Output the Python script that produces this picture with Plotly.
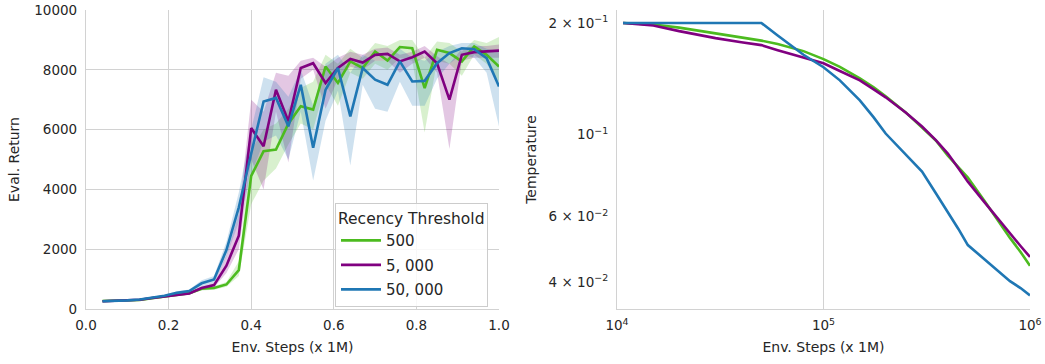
import plotly.graph_objects as go

# ---------------- Left panel data (Eval. Return) ----------------
steps = [0.04, 0.07, 0.10, 0.13, 0.16, 0.19, 0.22, 0.25, 0.28, 0.31, 0.34, 0.37, 0.40,
         0.43, 0.46, 0.49, 0.52, 0.55, 0.58, 0.61, 0.64, 0.67, 0.70, 0.73, 0.76, 0.79,
         0.82, 0.85, 0.88, 0.91, 0.94, 0.97, 1.00]

ret_500 = [270, 275, 285, 300, 360, 420, 490, 530, 680, 700, 820, 1300, 4450, 5280, 5330,
           6200, 6780, 6670, 8110, 7560, 8280, 8060, 8610, 8310, 8760, 8720, 7390, 8670,
           8560, 8280, 8780, 8500, 8110]
ret_500_lo = [230, 240, 250, 265, 320, 380, 450, 490, 620, 640, 740, 1100, 3500, 4300, 4700,
              5500, 6200, 6000, 7500, 6800, 7900, 7700, 8200, 8000, 8400, 8300, 5900, 8300,
              8200, 7800, 8500, 8200, 7600]
ret_500_hi = [310, 310, 320, 335, 400, 460, 530, 570, 740, 760, 900, 1600, 5300, 6000, 6200,
              6700, 7400, 7600, 8500, 8200, 8700, 8400, 8900, 8800, 9000, 9000, 8400, 8950,
              8900, 8600, 9000, 8900, 9100]

ret_5k = [260, 270, 285, 310, 370, 420, 470, 520, 700, 800, 1450, 2450, 6050, 5440, 7330,
          6280, 8060, 8220, 7560, 8060, 8360, 8240, 8500, 8530, 8280, 8420, 8610, 8220,
          7000, 8500, 8590, 8610, 8640]
ret_5k_lo = [220, 235, 250, 275, 330, 380, 430, 480, 640, 720, 1200, 2000, 5000, 4000, 6600,
             4900, 7700, 8000, 6700, 7700, 8100, 8000, 8300, 8300, 7900, 8200, 8400, 7900,
             5350, 8300, 8400, 8400, 8400]
ret_5k_hi = [300, 305, 320, 345, 410, 460, 510, 560, 760, 880, 1800, 3200, 7000, 6600, 7900,
             7800, 8300, 8400, 8100, 8400, 8600, 8500, 8700, 8750, 8500, 8600, 8800, 8450,
             8200, 8700, 8800, 8800, 8850]

ret_50k = [260, 270, 290, 320, 380, 440, 540, 600, 860, 990, 1970, 3400, 5200, 6940, 7060,
           6110, 7500, 5390, 7330, 8060, 6440, 8060, 7670, 7500, 8280, 7610, 7630, 8220,
           8560, 8720, 8690, 8390, 7440]
ret_50k_lo = [220, 235, 255, 285, 340, 400, 490, 550, 760, 880, 1750, 2900, 4500, 5600, 5800,
              5000, 6600, 4300, 6300, 7300, 4800, 7500, 6700, 6600, 7600, 6800, 6800, 7700,
              8200, 8500, 8400, 7900, 6100]
ret_50k_hi = [300, 305, 325, 355, 420, 480, 590, 650, 960, 1100, 2250, 3900, 6000, 7750, 7600,
              7100, 8000, 6800, 8200, 8500, 7900, 8500, 8300, 8300, 8700, 8400, 8300, 8600,
              8800, 8900, 8900, 8700, 8600]

# ---------------- Right panel data (Temperature) ----------------
env_steps = [10700, 15000, 20000, 30000, 40000, 50000, 60000, 70000, 80000, 100000, 120000,
             150000, 175000, 200000, 250000, 300000, 350000, 400000, 450000, 500000, 600000,
             700000, 800000, 900000, 1000000]
temp_500 = [0.200, 0.198, 0.1943, 0.1878, 0.1826, 0.1792, 0.1754, 0.1716, 0.1679, 0.1597,
            0.1522, 0.1418, 0.1341, 0.1268, 0.1147, 0.1044, 0.0963, 0.0877, 0.0816, 0.0765,
            0.0663, 0.0585, 0.0526, 0.0482, 0.0442]
temp_5k = [0.200, 0.1968, 0.1901, 0.1820, 0.1775, 0.1743, 0.1689, 0.1648, 0.1612, 0.1557,
           0.1484, 0.1400, 0.1324, 0.1260, 0.1147, 0.1051, 0.0966, 0.0888, 0.0811, 0.0746,
           0.0658, 0.0592, 0.0539, 0.0500, 0.0467]
temp_50k = [0.200, 0.200, 0.200, 0.200, 0.200, 0.200, 0.1850, 0.1736, 0.1641, 0.1519,
            0.1400, 0.1236, 0.1112, 0.1006, 0.0883, 0.0794, 0.0694, 0.0618, 0.0556, 0.0503,
            0.0461, 0.0428, 0.0402, 0.0385, 0.0368]

labels = ["500", "5, 000", "50, 000"]
colors = ["#4cbb1f", "#800080", "#1f77b4"]
fills = ["rgba(76,187,31,0.22)", "rgba(128,0,128,0.22)", "rgba(31,119,180,0.22)"]

x_ticks_left = [0.0, 0.2, 0.4, 0.6, 0.8, 1.0]
x_tick_text_left = ["0.0", "0.2", "0.4", "0.6", "0.8", "1.0"]
y_ticks_left = [0, 2000, 4000, 6000, 8000, 10000]
y_tick_text_left = ["0", "2000", "4000", "6000", "8000", "10000"]

x_ticks_right = [1e4, 1e5, 1e6]
x_tick_text_right = ["10<sup>4</sup>", "10<sup>5</sup>", "10<sup>6</sup>"]
y_ticks_right = [0.04, 0.06, 0.1, 0.2]
y_tick_text_right = ["4 × 10<sup>−2</sup>", "6 × 10<sup>−2</sup>", "10<sup>−1</sup>",
                     "2 × 10<sup>−1</sup>"]

FONT = "DejaVu Sans"
TXT = "#262626"
GRID = "#d2d2d2"

W, H = 1045, 364
TOP, BOTTOM = 10, 55

fig = go.Figure()

means = [ret_500, ret_5k, ret_50k]
los = [ret_500_lo, ret_5k_lo, ret_50k_lo]
his = [ret_500_hi, ret_5k_hi, ret_50k_hi]

for m, lo, hi, lab, c, f in zip(means, los, his, labels, colors, fills):
    fig.add_trace(go.Scatter(x=steps + steps[::-1], y=hi + lo[::-1], fill="toself",
                             fillcolor=f, line=dict(width=0), mode="lines",
                             hoverinfo="skip", showlegend=False, xaxis="x", yaxis="y"))
for i, (m, lab, c) in enumerate(zip(means, labels, colors)):
    fig.add_trace(go.Scatter(x=steps, y=m, mode="lines", name=lab, legendgroup=f"g{i}",
                             line=dict(color=c, width=2.6), xaxis="x", yaxis="y"))

for t, lab, c in zip([temp_500, temp_5k, temp_50k], labels, colors):
    fig.add_trace(go.Scatter(x=env_steps, y=t, mode="lines", name=lab, showlegend=False,
                             line=dict(color=c, width=2.6),
                             xaxis="x2", yaxis="y2"))

axis_common = dict(showline=True, linecolor=GRID, linewidth=1.2, gridwidth=1,
                   zeroline=False, ticks="", automargin=False,
                   tickfont=dict(family=FONT, size=13.5, color=TXT),
                   title_font=dict(family=FONT, size=14, color=TXT))

plot_h = H - TOP - BOTTOM

fig.update_layout(
    width=W, height=H,
    margin=dict(l=0, r=0, t=TOP, b=BOTTOM),
    paper_bgcolor="white", plot_bgcolor="white",
    font=dict(family=FONT, color=TXT, size=13.5),
    xaxis=dict(domain=[86 / W, 499 / W], range=[0, 1], tickvals=x_ticks_left,
               ticktext=x_tick_text_left, title=dict(text="Env. Steps (x 1M)", standoff=9),
               anchor="y", ticklabelstandoff=4, gridcolor=GRID, **axis_common),
    yaxis=dict(domain=[0, 1], range=[0, 10000], tickvals=y_ticks_left,
               ticktext=y_tick_text_left,
               title=dict(text="Eval. Return", standoff=11), anchor="x",
               ticklabelstandoff=5, gridcolor=GRID, **axis_common),
    xaxis2=dict(domain=[617 / W, 1030 / W], type="log", range=[4, 6], tickvals=x_ticks_right,
                ticktext=x_tick_text_right, title=dict(text="Env. Steps (x 1M)", standoff=9),
                anchor="y2", ticklabelstandoff=4, gridcolor=GRID, **axis_common),
    yaxis2=dict(domain=[0, 1], type="log", range=[-1.471, -0.664], tickvals=y_ticks_right,
                ticktext=y_tick_text_right, showgrid=False,
                title=dict(text="Temperature", standoff=8), anchor="x2",
                ticklabelstandoff=5, **axis_common),
    legend=dict(x=335 / W, y=(H - BOTTOM - 203) / plot_h, xanchor="left", yanchor="top",
                bgcolor="rgba(255,255,255,0.85)", bordercolor="#cccccc", borderwidth=1,
                title=dict(text="Recency Threshold", font=dict(family=FONT, size=15.5, color=TXT)),
                font=dict(family=FONT, size=15, color=TXT), tracegroupgap=2,
                itemwidth=40),
    showlegend=True,
)

# major gridline at 10^-1 on the right panel (log axis uses log10 coordinates)
fig.add_shape(type="line", xref="x2 domain", x0=0, x1=1, yref="y2", y0=-1, y1=-1,
              line=dict(color=GRID, width=1), layer="below")

# remove the default 8px page margin so the figure fills the 1045x364 window exactly
fig.write_html("out.html", config={"displayModeBar": False},
               post_script="document.body.style.margin='0';document.body.style.overflow='hidden';")
